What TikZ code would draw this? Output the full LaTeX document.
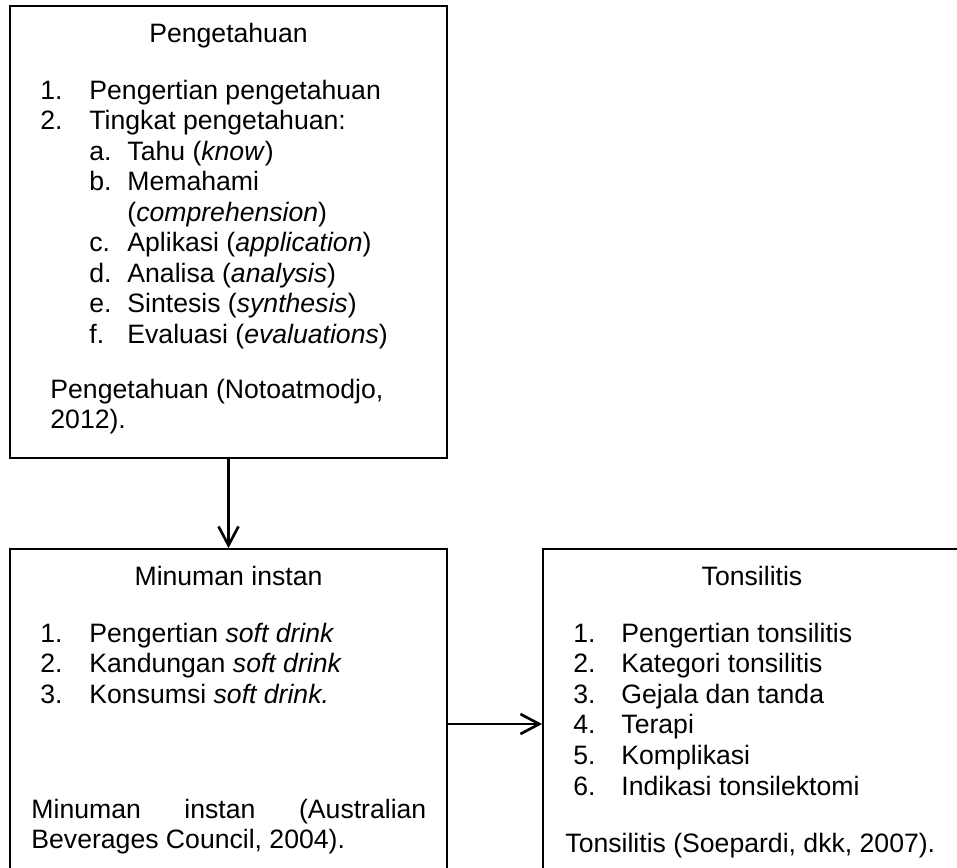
\documentclass[tikz,border=0pt]{standalone}
\usepackage{fontspec}
\setmainfont{Liberation Sans}
\usetikzlibrary{fit,arrows.meta}
\begin{document}
\begin{tikzpicture}[x=0.451pt, y=-0.451pt, font=\fontsize{12}{13.8}\selectfont,
        box/.style={draw, line width=0.8pt, inner sep=0pt},
        txt/.style={anchor=base west, inner sep=0pt},
        ttl/.style={anchor=base, inner sep=0pt},
        arr/.style={line width=1.2pt, -{Straight Barb[length=8.5pt, width=9pt]}}]
        \useasboundingbox (0,0) rectangle (957,868);
        \clip (0,0) rectangle (957,868);
        \node[box, fit={(10,6) (447,458)}] (pengetahuan) {};
        \node[box, fit={(10,549) (447,899)}] (minuman) {};
        \node[box, fit={(543,549) (961,899)}] (tonsilitis) {};
        \node[ttl] (t-peng) at (228.5,42) {Pengetahuan};
        \foreach \t [count=\i] in {Pengertian pengetahuan, Tingkat pengetahuan:} {
            \node[txt] (pn-\i) at (40,{99+30.5*(\i-1)}) {\i.};
            \node[txt] (pt-\i) at (89,{99+30.5*(\i-1)}) {\t};
        }
        \foreach \l/\t [count=\i] in {a./Tahu (\textit{know}), b./Memahami,
            c./Aplikasi (\textit{application}), d./Analisa (\textit{analysis}),
            e./Sintesis (\textit{synthesis}), f./Evaluasi (\textit{evaluations})} {
            \pgfmathsetmacro\yy{160+30.5*(\i-1)+30.5*(\i>2)}
            \node[txt] (sn-\i) at (89,\yy) {\l};
            \node[txt] (st-\i) at (127,\yy) {\t};
        }
        \node[txt] (st-b2) at (127,221) {(\textit{comprehension})};
        \node[txt] (c-peng1) at (50,398) {Pengetahuan (Notoatmodjo,};
        \node[txt] (c-peng2) at (50,428) {2012).};
        \node[ttl] (t-min) at (228.5,585) {Minuman instan};
        \foreach \t [count=\i] in {Pengertian \textit{soft drink}, Kandungan \textit{soft drink},
            Konsumsi \textit{soft drink.}} {
            \node[txt] (mn-\i) at (40,{642+30.6*(\i-1)}) {\i.};
            \node[txt] (mt-\i) at (89,{642+30.6*(\i-1)}) {\t};
        }
        \node[txt] (c-min1) at (31,818) {\makebox[178.1pt][s]{Minuman instan (Australian}};
        \node[txt] (c-min2) at (31,848) {Beverages Council, 2004).};
        \node[ttl] (t-ton) at (752,585) {Tonsilitis};
        \foreach \t [count=\i] in {Pengertian tonsilitis, Kategori tonsilitis, Gejala dan tanda,
            Terapi, Komplikasi, Indikasi tonsilektomi} {
            \node[txt] (tn-\i) at (573,{642+30.6*(\i-1)}) {\i.};
            \node[txt] (tt-\i) at (621,{642+30.6*(\i-1)}) {\t};
        }
        \node[txt] (c-ton) at (565,852) {Tonsilitis (Soepardi, dkk, 2007).};
        \draw[arr] (pengetahuan) -- (minuman);
        \draw[arr] (minuman) -- (tonsilitis);
    \end{tikzpicture}
\end{document}
